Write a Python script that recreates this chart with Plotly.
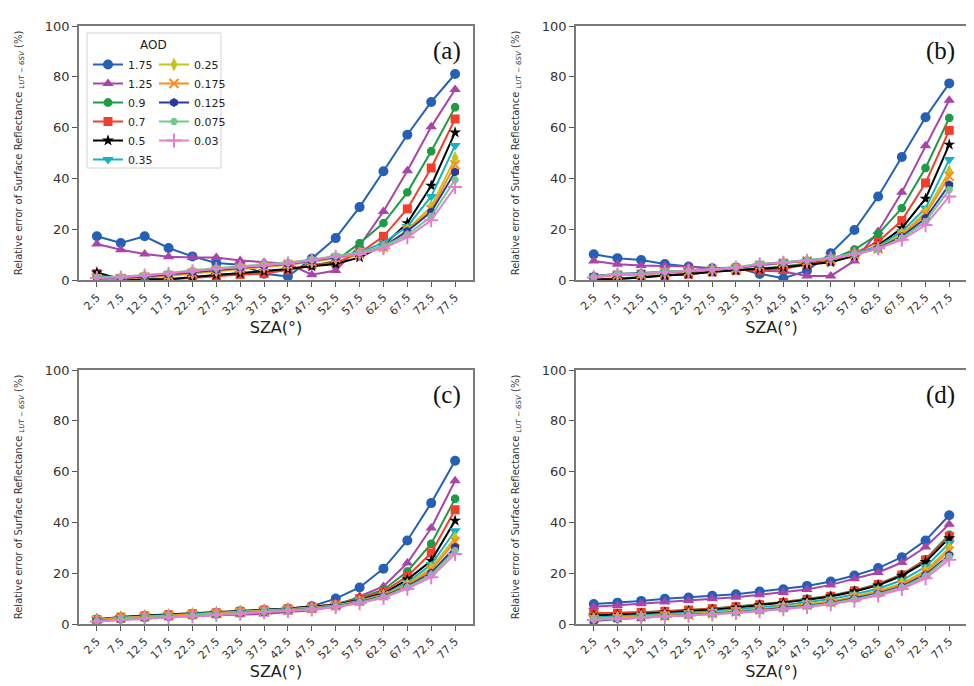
import plotly.graph_objects as go

# ---------------- data ----------------
sza_labels = ["2.5", "7.5", "12.5", "17.5", "22.5", "27.5", "32.5", "37.5",
              "42.5", "47.5", "52.5", "57.5", "62.5", "67.5", "72.5", "77.5"]
aod_labels = ["1.75", "1.25", "0.9", "0.7", "0.5", "0.35",
              "0.25", "0.175", "0.125", "0.075", "0.03"]
panel_labels = ["(a)", "(b)", "(c)", "(d)"]

panel_a = [
    [17.2, 14.6, 17.2, 12.6, 9.3, 6.7, 6.0, 2.5, 1.4, 8.4, 16.5, 28.7, 42.8, 57.2, 70.1, 81.1],
    [14.2, 11.9, 10.2, 9.2, 8.9, 8.9, 7.7, 7.0, 6.4, 2.1, 3.7, 13.5, 27.0, 43.0, 60.3, 75.0],
    [1.5, 0.3, 0.6, 0.3, 1.0, 2.0, 2.6, 3.0, 4.2, 5.6, 7.5, 14.5, 22.4, 34.5, 50.7, 68.0],
    [2.5, 0.5, 0.0, 0.3, 0.8, 1.5, 2.2, 2.5, 4.0, 6.0, 6.8, 10.6, 17.2, 28.0, 44.1, 63.4],
    [3.0, 0.3, 0.3, 0.2, 1.2, 2.0, 2.6, 3.4, 4.3, 5.4, 6.3, 8.9, 13.6, 22.4, 37.1, 58.1],
    [1.4, 1.3, 1.6, 2.4, 3.3, 4.1, 5.0, 5.5, 6.2, 7.5, 9.0, 11.0, 14.6, 21.1, 32.9, 53.0],
    [0.8, 0.6, 1.0, 1.6, 2.6, 3.5, 4.4, 5.2, 6.0, 7.2, 8.6, 10.3, 12.6, 19.8, 29.0, 48.0],
    [0.5, 0.5, 1.2, 1.8, 2.8, 3.8, 4.6, 5.3, 6.1, 7.3, 8.7, 10.2, 13.0, 19.5, 27.7, 45.4],
    [0.6, 0.8, 1.4, 2.2, 3.1, 4.0, 4.8, 5.6, 6.4, 7.6, 9.0, 10.5, 13.2, 19.2, 26.8, 42.5],
    [1.0, 1.3, 2.0, 2.7, 3.8, 4.6, 5.4, 6.2, 6.9, 8.1, 9.5, 10.8, 13.3, 17.8, 25.1, 39.5],
    [0.8, 1.0, 1.8, 2.5, 3.4, 4.3, 5.0, 5.8, 6.5, 7.8, 9.2, 10.2, 12.5, 16.8, 23.5, 36.6],
]
panel_b = [
    [10.1, 8.6, 7.9, 6.3, 5.3, 4.6, 4.9, 2.4, 0.7, 3.7, 10.5, 19.7, 32.9, 48.4, 64.1, 77.4],
    [7.5, 6.2, 5.7, 5.5, 5.3, 4.3, 4.6, 3.7, 3.3, 1.6, 1.6, 7.5, 19.1, 34.5, 52.9, 70.8],
    [0.3, 0.6, 1.2, 2.0, 2.5, 3.3, 4.0, 4.5, 5.3, 6.5, 8.0, 12.0, 18.0, 28.3, 44.1, 63.8],
    [0.3, 0.5, 1.0, 1.8, 2.3, 3.2, 3.8, 3.9, 4.3, 6.2, 7.5, 10.5, 15.1, 23.4, 38.2, 58.9],
    [0.2, 0.4, 1.0, 1.8, 2.3, 3.2, 3.8, 4.3, 5.0, 6.0, 7.0, 9.5, 13.6, 20.4, 32.0, 53.3],
    [1.2, 2.3, 2.3, 3.0, 3.5, 3.9, 4.5, 5.8, 6.8, 7.5, 8.5, 10.5, 13.2, 19.1, 28.3, 47.4],
    [1.5, 2.2, 2.2, 3.0, 3.5, 4.0, 4.6, 5.9, 6.9, 7.6, 8.4, 10.2, 12.5, 18.2, 26.7, 42.8],
    [1.0, 2.0, 2.3, 3.0, 3.4, 4.0, 4.6, 5.8, 6.7, 7.5, 8.3, 10.0, 12.3, 17.5, 25.7, 40.8],
    [1.6, 2.4, 2.8, 3.1, 3.6, 4.1, 4.8, 6.0, 6.9, 7.7, 8.6, 10.3, 12.4, 17.1, 24.3, 37.5],
    [1.3, 2.6, 2.5, 3.3, 3.7, 4.2, 5.0, 6.4, 7.0, 7.8, 8.8, 10.4, 12.2, 16.5, 23.0, 35.5],
    [1.0, 2.2, 2.3, 3.1, 3.5, 4.1, 4.8, 6.2, 6.8, 7.6, 8.5, 10.0, 12.5, 15.8, 21.7, 32.9],
]
panel_c = [
    [1.8, 2.5, 3.0, 3.5, 3.8, 4.3, 4.9, 5.4, 6.0, 7.0, 10.0, 14.4, 21.8, 32.9, 47.6, 64.3],
    [1.5, 2.4, 2.9, 3.2, 3.3, 3.4, 3.6, 3.9, 4.7, 5.4, 7.0, 10.9, 14.8, 24.0, 37.8, 56.4],
    [1.6, 2.6, 3.1, 3.5, 3.9, 4.3, 4.9, 5.4, 6.0, 6.7, 7.8, 10.3, 13.5, 20.7, 31.6, 49.3],
    [1.7, 2.7, 3.2, 3.6, 4.0, 4.4, 5.0, 5.5, 6.0, 6.7, 7.7, 10.0, 12.8, 18.8, 28.0, 45.0],
    [1.9, 2.8, 3.3, 3.7, 4.1, 4.6, 5.1, 5.6, 6.1, 6.7, 7.6, 9.6, 12.0, 17.5, 24.9, 40.7],
    [1.8, 2.6, 3.1, 3.5, 3.9, 4.4, 4.9, 5.4, 5.9, 6.5, 7.4, 9.3, 11.6, 16.3, 23.4, 36.7],
    [1.6, 2.4, 2.9, 3.3, 3.7, 4.2, 4.7, 5.2, 5.7, 6.3, 7.2, 9.0, 11.3, 15.6, 22.0, 33.9],
    [1.5, 2.3, 2.8, 3.2, 3.6, 4.1, 4.6, 5.1, 5.6, 6.2, 7.1, 8.9, 11.1, 15.2, 21.2, 32.5],
    [1.3, 1.7, 2.3, 2.8, 3.2, 3.6, 4.2, 4.8, 5.4, 6.1, 7.0, 8.7, 10.9, 14.8, 20.1, 30.2],
    [1.2, 1.9, 2.5, 2.9, 3.3, 3.8, 4.3, 4.9, 5.4, 6.0, 6.9, 8.5, 10.6, 14.4, 19.3, 28.9],
    [1.0, 1.6, 2.2, 2.6, 3.0, 3.5, 4.0, 4.6, 5.1, 5.7, 6.6, 8.2, 10.3, 13.9, 18.4, 27.6],
]
panel_d = [
    [7.9, 8.4, 9.1, 9.9, 10.4, 11.1, 11.7, 12.8, 13.7, 15.0, 16.7, 19.1, 22.0, 26.3, 32.9, 42.8],
    [6.8, 7.3, 8.0, 8.7, 9.3, 9.9, 10.5, 11.5, 12.4, 13.6, 15.4, 17.8, 20.3, 24.2, 30.3, 39.3],
    [4.0, 4.2, 4.6, 5.0, 5.5, 6.1, 6.9, 7.8, 8.7, 9.9, 11.1, 13.2, 15.8, 19.5, 25.5, 35.2],
    [4.2, 4.3, 4.6, 5.0, 5.5, 6.0, 6.8, 7.6, 8.5, 9.7, 10.9, 13.0, 15.5, 19.3, 25.2, 34.5],
    [3.3, 3.6, 4.0, 4.5, 5.0, 5.6, 6.4, 7.4, 8.3, 9.5, 10.8, 12.8, 15.2, 19.0, 24.4, 33.8],
    [2.6, 3.0, 3.4, 3.9, 4.4, 5.0, 5.7, 6.6, 7.4, 8.6, 9.8, 11.7, 13.9, 17.2, 22.5, 31.8],
    [2.2, 2.6, 3.0, 3.4, 3.9, 4.5, 5.1, 5.9, 6.8, 7.8, 9.0, 10.8, 13.0, 16.0, 21.0, 29.9],
    [2.0, 2.4, 2.8, 3.2, 3.7, 4.2, 4.8, 5.6, 6.5, 7.5, 8.6, 10.4, 12.5, 15.4, 20.2, 28.8],
    [1.2, 2.0, 2.5, 3.0, 3.5, 4.0, 4.6, 5.4, 6.2, 7.2, 8.3, 10.0, 12.0, 14.8, 19.4, 27.2],
    [1.8, 2.2, 2.6, 3.0, 3.4, 3.9, 4.5, 5.2, 6.0, 7.0, 8.1, 9.7, 11.7, 14.4, 18.8, 26.6],
    [1.6, 2.0, 2.4, 2.8, 3.2, 3.7, 4.3, 5.0, 5.8, 6.7, 7.8, 9.3, 11.2, 13.8, 18.0, 25.3],
]
panels = [panel_a, panel_b, panel_c, panel_d]

# ---------------- styles ----------------
colors = ["#2360b6", "#a944a8", "#1f9a47", "#f23f2b", "#000000", "#17b2c2",
          "#c6c21e", "#ff8a1c", "#2a3a98", "#6ccc8c", "#e27fd2"]
symbols = ["circle", "triangle-up", "octagon", "square", "star", "triangle-down",
           "diamond-tall", "x-thin", "hexagon", "hexagon2", "cross-thin"]
sizes = [10, 10, 9, 9, 9, 10, 10, 9, 9, 8, 10]

W, H = 974, 686
# plot-area pixel boxes (left, right, top, bottom)
boxes = [(71, 465, 18, 272), (568, 959, 18, 272),
         (71, 465, 362, 616), (568, 959, 362, 616)]

FONT = "DejaVu Sans"
fig = go.Figure()

for p, data in enumerate(panels):
    xa = "x" if p == 0 else f"x{p+1}"
    ya = "y" if p == 0 else f"y{p+1}"
    for k, vals in enumerate(data):
        sym = symbols[k]
        thin = sym.endswith("-thin")
        fig.add_trace(go.Scatter(
            x=sza_labels, y=vals, xaxis=xa, yaxis=ya,
            mode="lines+markers", name=aod_labels[k],
            line=dict(color=colors[k], width=2),
            marker=dict(symbol=sym, size=sizes[k], color=colors[k],
                        line=dict(color=colors[k], width=2 if thin else 0)),
            showlegend=(p == 0),
            legend="legend" if k < 6 else "legend2",
        ))

layout = dict(
    width=W, height=H, margin=dict(l=0, r=0, t=0, b=0, autoexpand=False),
    paper_bgcolor="white", plot_bgcolor="white",
    font=dict(family=FONT, color="#222222", size=12),
    showlegend=True,
)

ytitle = "Relative error of Surface Reflectance <sub><i>LUT − 6SV</i></sub> (%)"
annotations = []
for p, (l, r, t, b) in enumerate(boxes):
    sx = "" if p == 0 else str(p + 1)
    layout[f"xaxis{sx}"] = dict(
        domain=[l / W, r / W], anchor=f"y{sx}", type="category",
        range=[-0.75, 15.75], tickangle=-45, automargin=False,
        tickfont=dict(size=11, family=FONT, color="#333333"),
        ticks="outside", ticklen=5, tickcolor="#555555",
        showline=True, mirror=True, linecolor="#7a7a7a", linewidth=1.5,
        showgrid=False, zeroline=False,
        title=dict(text="SZA(°)", font=dict(size=16, family=FONT, color="#222222"),
                   standoff=2),
    )
    layout[f"yaxis{sx}"] = dict(
        domain=[1 - b / H, 1 - t / H], anchor=f"x{sx}", automargin=False,
        range=[0, 100], dtick=20,
        tickfont=dict(size=13, family=FONT, color="#333333"),
        ticks="outside", ticklen=5, tickcolor="#555555",
        showline=True, mirror=True, linecolor="#7a7a7a", linewidth=1.5,
        showgrid=False, zeroline=False,
        title=dict(text=ytitle, font=dict(size=10, family=FONT, color="#333333"),
                   standoff=20),
    )
    annotations.append(dict(
        text=panel_labels[p], xref=f"x{sx} domain", yref=f"y{sx} domain",
        x=0.975, y=0.965, xanchor="right", yanchor="top", showarrow=False,
        font=dict(size=25, family="Liberation Serif", color="#111111"),
    ))

annotations.append(dict(
    text="AOD", xref="paper", yref="paper", x=145 / W, y=1 - 28 / H,
    xanchor="center", yanchor="top", showarrow=False,
    font=dict(size=12, family=FONT, color="#222222"),
))
layout["annotations"] = annotations

layout["shapes"] = [dict(
    type="rect", xref="paper", yref="paper",
    x0=79 / W, x1=213 / W, y0=1 - 160 / H, y1=1 - 25 / H,
    line=dict(color="#d5d5d5", width=1), fillcolor="rgba(255,255,255,0.85)",
    layer="above",
)]

leg_common = dict(bgcolor="rgba(0,0,0,0)", borderwidth=0,
                  font=dict(size=11, family=FONT, color="#222222"),
                  orientation="v", yanchor="top", xanchor="left",
                  itemwidth=30, tracegroupgap=0)
layout["legend"] = dict(x=80 / W, y=1 - 42 / H, **leg_common)
layout["legend2"] = dict(x=146 / W, y=1 - 42 / H, **leg_common)

fig.update_layout(**layout)
fig.write_html("out.html")
